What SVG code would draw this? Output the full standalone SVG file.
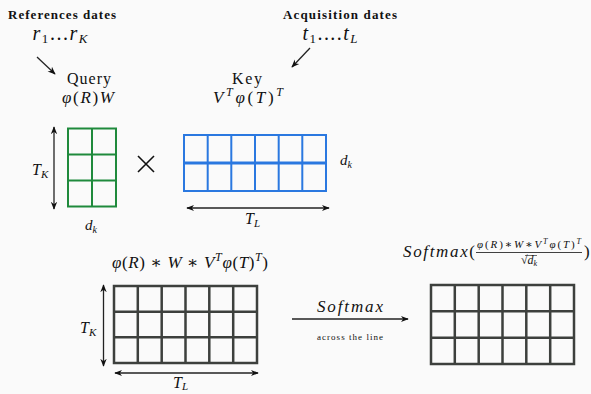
<svg xmlns="http://www.w3.org/2000/svg" width="591" height="394" viewBox="0 0 591 394">
<defs>
<marker id="ah" viewBox="0 0 10 10" refX="9" refY="5" markerWidth="8" markerHeight="8" orient="auto-start-reverse" markerUnits="userSpaceOnUse">
<path d="M0,1 L10,5 L0,9 L3,5 Z" fill="#111"/>
</marker>
<style>
text{font-family:"Liberation Serif","Times New Roman","DejaVu Serif","Noto Serif",serif;fill:#111}
.m{font-style:italic}
.b{font-weight:bold}
.u{font-style:normal}
.arr{stroke:#222;stroke-width:1.3;fill:none;marker-end:url(#ah)}
.darr{stroke:#222;stroke-width:1.3;fill:none;marker-end:url(#ah);marker-start:url(#ah)}
.g{stroke:#1f8a3c;stroke-width:2;fill:none}
.bl{stroke:#2a78e0;stroke-width:2;fill:none}
.dk{stroke:#3d403d;stroke-width:2.5;fill:none}
</style>
</defs>
<rect width="591" height="394" fill="#fafafa"/>

<g id="ref-dates">
<text class="b" x="62" y="19" font-size="13" text-anchor="middle" textLength="108">References dates</text>
<text class="m" x="60" y="40" font-size="20" text-anchor="middle" textLength="55">r<tspan font-size="13" dy="3" class="u">1</tspan><tspan dy="-3" class="u">...</tspan>r<tspan font-size="13" dy="3">K</tspan></text>
</g>

<g id="acq-dates">
<text class="b" x="340" y="19" font-size="13" text-anchor="middle" textLength="114">Acquisition dates</text>
<text class="m" x="330" y="40" font-size="20" text-anchor="middle" textLength="55">t<tspan font-size="13" dy="3" class="u">1</tspan><tspan dy="-3" class="u">....</tspan>t<tspan font-size="13" dy="3">L</tspan></text>
</g>

<g id="query">
<text x="89" y="84" font-size="16" text-anchor="middle" textLength="44">Query</text>
<text class="m" x="88" y="103" font-size="17" text-anchor="middle" textLength="52">φ<tspan class="u">(</tspan>R<tspan class="u">)</tspan>W</text>
</g>

<g id="key">
<text x="247" y="84" font-size="16" text-anchor="middle" textLength="30">Key</text>
<text class="m" x="248" y="103" font-size="17" text-anchor="middle" textLength="70">V<tspan font-size="12" dy="-7">T</tspan><tspan dy="7">φ</tspan><tspan class="u">(</tspan>T<tspan class="u">)</tspan><tspan font-size="12" dy="-7">T</tspan></text>
</g>

<g id="query-matrix">
<rect class="g" x="68" y="128.5" width="48" height="78"/>
<path class="g" d="M92,128.5V206.5M68,154.5H116M68,180.5H116"/>
<text class="m" x="32" y="175" font-size="16">T<tspan font-size="11" dy="3">K</tspan></text>
<text class="m" x="85" y="230" font-size="15">d<tspan font-size="10" dy="3">k</tspan></text>
</g>

<g id="times">
<path d="M138,156 L154,172 M154,156 L138,172" stroke="#111" stroke-width="1.6"/>
</g>

<g id="key-matrix">
<rect class="bl" x="184" y="135" width="142" height="56"/>
<path class="bl" d="M207.7,135V191M231.3,135V191M255,135V191M278.7,135V191M302.3,135V191"/>
<path d="M184,163H326" stroke="#2a78e0" stroke-width="3"/>
<text class="m" x="340" y="165" font-size="15">d<tspan font-size="10" dy="3">k</tspan></text>
<text class="m" x="245" y="224" font-size="16">T<tspan font-size="11" dy="3">L</tspan></text>
</g>

<g id="product-matrix">
<text class="m" x="190" y="268" font-size="17" text-anchor="middle" textLength="156">φ<tspan class="u">(</tspan>R<tspan class="u">)</tspan> ∗ W ∗ V<tspan font-size="12" dy="-7">T</tspan><tspan dy="7">φ</tspan><tspan class="u">(</tspan>T<tspan class="u">)</tspan><tspan font-size="12" dy="-7">T</tspan><tspan dy="7" class="u">)</tspan></text>
<rect class="dk" x="114" y="286" width="143" height="77"/>
<path class="dk" d="M137.8,286V363M161.7,286V363M185.5,286V363M209.3,286V363M233.2,286V363M114,311.7H257M114,337.3H257"/>
<text class="m" x="80" y="333" font-size="16">T<tspan font-size="11" dy="3">K</tspan></text>
<text class="m" x="173" y="388" font-size="16">T<tspan font-size="11" dy="2">L</tspan></text>
</g>

<g id="softmax-matrix">
<text class="m" x="403" y="257" font-size="17" textLength="72">Softmax<tspan class="u">(</tspan></text>
<text class="m" x="529" y="248" font-size="11" text-anchor="middle" textLength="104">φ<tspan class="u">(</tspan>R<tspan class="u">)</tspan>∗W∗V<tspan font-size="8" dy="-4">T</tspan><tspan dy="4">φ</tspan><tspan class="u">(</tspan>T<tspan class="u">)</tspan><tspan font-size="8" dy="-4">T</tspan></text>
<path d="M476,252.5H582" stroke="#111" stroke-width="0.8"/>
<text class="m" x="529" y="264" font-size="12" text-anchor="middle"><tspan class="u">√</tspan>d<tspan font-size="8" dy="2">k</tspan></text>
<path d="M525,255.5H537" stroke="#111" stroke-width="0.6"/>
<text x="584" y="257" font-size="17">)</text>
<rect class="dk" x="431" y="285" width="143" height="79"/>
<path class="dk" d="M454.8,285V364M478.7,285V364M502.5,285V364M526.3,285V364M550.2,285V364M431,311.3H574M431,337.7H574"/>
</g>

<g id="connectors">
<path class="arr" d="M37,57 L55,74"/>
<path class="arr" d="M310,48 L292,67"/>
<path class="darr" d="M54,127 V209"/>
<path class="darr" d="M187,208 H329"/>
<path class="darr" d="M103.5,285 V366"/>
<path class="darr" d="M115,373 H258"/>
<path class="arr" d="M292,319 H408" stroke="#555"/>
<text class="m" x="350" y="312" font-size="17" text-anchor="middle" textLength="66">Softmax</text>
<text x="350" y="340" font-size="9" text-anchor="middle" textLength="66">across the line</text>
</g>
</svg>
